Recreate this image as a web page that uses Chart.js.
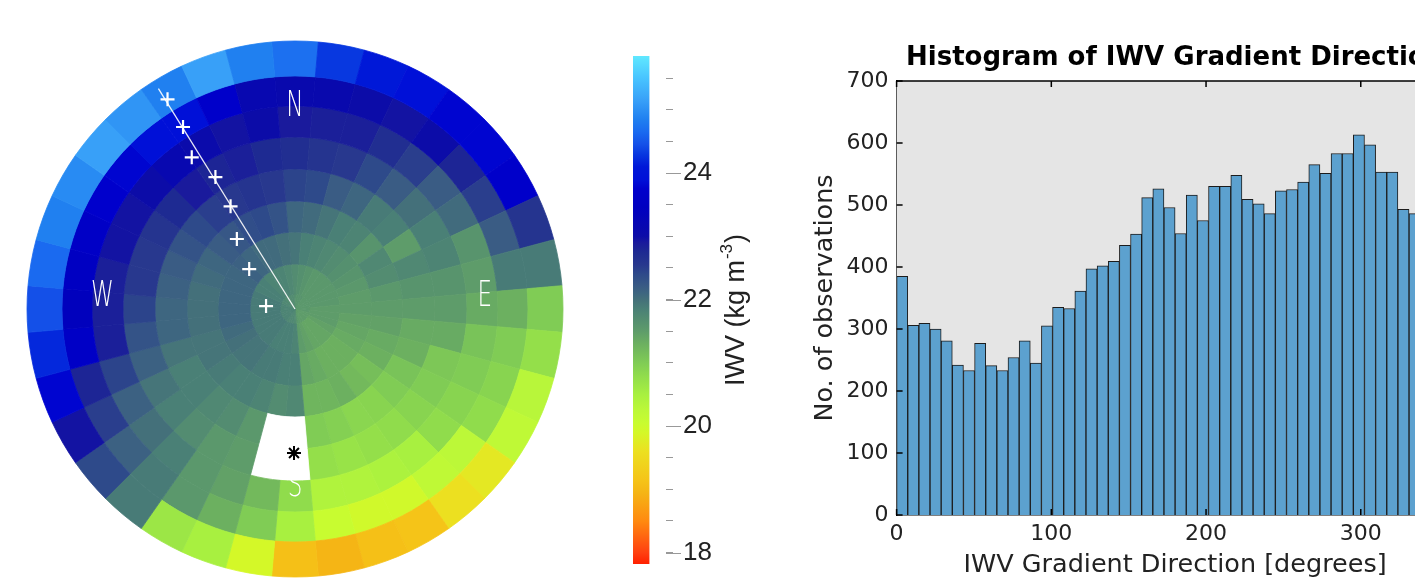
<!DOCTYPE html>
<html><head><meta charset="utf-8">
<script src="https://cdn.jsdelivr.net/npm/chart.js@4.4.1/dist/chart.umd.min.js"></script>
<style>
html,body{margin:0;padding:0;background:#fff;overflow:hidden;width:1415px;height:586px;position:relative;}
.box{position:absolute;}
#polarBox,#overBox{left:15px;top:29px;width:560px;height:560px;}
#cbarBox{left:600px;top:40px;width:180px;height:546px;}
#histBox{left:800px;top:0px;width:700px;height:586px;}
</style></head>
<body>
<div class="box" id="polarBox"><canvas id="polar"></canvas></div>
<div class="box" id="overBox"><canvas id="over"></canvas></div>
<div class="box" id="cbarBox"><canvas id="cbar"></canvas></div>
<div class="box" id="histBox"><canvas id="hist"></canvas></div>
<script>
// ---------- DATA ----------
// sky map: sector centre azimuths (deg, clockwise from N)
const sectorAz = [0,10,20,30,40,50,60,70,80,90,100,110,120,130,140,150,160,170,180,190,200,210,220,230,240,250,260,270,280,290,300,310,320,330,340,350];
// IWV per ring, outermost ring first; null = blocked (white)
const ring7 = [24.7,24.3,24.1,23.9,23.8,23.8,23.7,22.6,21.9,21.0,20.75,20.3,20.2,19.7,19.6,19.15,19.1,18.95,19.1,19.9,20.5,20.65,21.9,22.4,22.95,23.8,24.2,24.45,24.65,24.85,24.95,25.15,25.05,24.85,25.15,24.85];
const ring6 = [23.1,23.1,23.0,22.95,23.0,22.8,22.5,22.2,21.9,21.3,21.0,20.9,20.8,20.25,20.2,19.95,19.95,20.05,20.5,21.0,21.3,21.55,21.9,22.15,22.5,22.8,23.6,23.4,23.5,23.6,23.75,23.8,23.9,23.9,23.7,23.15];
const ring5 = [22.9,22.85,22.85,22.7,22.5,22.2,22.05,21.6,21.5,21.35,21.1,21.0,20.9,20.8,20.5,20.45,20.4,20.4,20.8,21.2,21.45,21.55,21.85,22.0,22.15,22.45,22.85,22.85,22.85,22.95,22.95,23.0,23.15,23.05,22.95,23.0];
const ring4 = [22.7,22.6,22.55,22.4,22.2,22.0,21.85,21.8,21.6,21.5,21.35,21.05,21.0,20.9,20.8,20.75,20.7,20.75,null,null,21.5,21.55,21.7,21.85,21.95,22.15,22.3,22.45,22.55,22.55,22.6,22.75,22.9,22.8,22.85,22.75];
const ring3 = [22.45,22.4,22.2,22.1,21.9,21.85,21.5,21.75,21.6,21.5,21.35,21.3,21.1,21.0,20.9,20.88,20.95,21.0,null,null,21.55,21.7,21.75,21.85,21.85,21.95,22.1,22.1,22.15,22.2,22.3,22.4,22.5,22.55,22.6,22.55];
const ring2 = [22.1,22.05,21.95,21.85,21.8,21.6,21.75,21.7,21.55,21.5,21.45,21.35,21.3,21.15,21.2,21.3,21.25,21.25,21.75,21.7,21.8,21.85,21.85,21.9,21.95,21.95,22.0,22.0,22.0,22.05,22.1,22.2,22.25,22.35,22.4,22.3];
const ring1 = [21.95,21.85,21.8,21.75,21.7,21.65,21.6,21.55,21.5,21.5,21.45,21.4,21.35,21.3,21.3,21.3,21.35,21.4,21.85,21.85,21.9,21.9,21.95,21.95,22.0,22.05,22.1,22.1,22.1,22.1,22.1,22.15,22.1,22.05,22.05,22.0];
const ring0 = [21.7,21.65,21.6,21.55,21.55,21.55,21.55,21.55,21.55,21.5,21.5,21.5,21.45,21.4,21.4,21.4,21.45,21.5,21.8,21.85,21.85,21.85,21.9,21.9,21.9,21.9,21.9,21.9,21.9,21.9,21.85,21.85,21.8,21.8,21.8,21.75];
const ringC = [21.65,21.6,21.6,21.6,21.55,21.55,21.55,21.55,21.55,21.55,21.55,21.5,21.5,21.5,21.5,21.5,21.5,21.55,21.7,21.75,21.75,21.75,21.8,21.8,21.8,21.8,21.8,21.8,21.8,21.8,21.75,21.75,21.7,21.7,21.7,21.7];
// scan markers (azimuth deg, zenith deg)
const markerAz  = [328.7,328.4,325.75,328.9,327.9,320.3,311.1,275.7];
const markerZen = [85.2,74.2,63.7,53.5,42.1,31.6,21.1,10.1];
const scanLineAz = 328.2;
const scanLineZen = [0, 90];
const starAz = [180.4], starZen = [50.0];
const compassText = ['N','E','S','W'];
const compassAz   = [0, 86.5, 180, 273.45];
const compassZen  = [70.2, 66, 61.8, 67];
// colour bar / colour map
const cbMin = 17.82, cbMax = 25.85;
const cbMajorTicks = [18,20,22,24];
const cmapVals   = [17.82,18.0,18.5,18.95,19.15,19.6,19.9,20.05,20.25,20.5,20.8,21.0,21.3,21.5,21.85,22.0,22.1,22.2,22.4,22.55,22.75,22.9,23.0,23.45,23.75,23.9,24.1,24.3,24.45,24.65,24.85,25.15,25.5,25.85];
const cmapColors = ['#ff2000','#ff4010','#ff8a10','#f5b515','#f5c418','#ece020','#d4f828','#c8fc30','#bcf838','#a8f040','#90dc4c','#80cc55','#6cb060','#5e9c6a','#4a8076','#44707a','#3e6680','#3a5c84','#2e4a8a','#28388e','#1e2a92','#1a1a9c','#0c0ca8','#0000c0','#0000cc','#0010d8','#0018d8','#0838e0','#1450e8','#1a6af0','#2080f0','#38a0f8','#48c4ff','#60e8ff'];
// histogram
const binWidth = 7.2;
const histCounts = [385,306,309,300,281,242,233,277,241,233,254,281,245,305,335,333,361,397,402,409,435,453,512,526,496,454,516,475,530,530,548,509,502,486,523,525,537,565,551,583,583,613,597,553,553,493,486];
const histXTicks = [0,100,200,300];
const histTitle = 'Histogram of IWV Gradient Direction';

// ---------- helpers ----------
function hex2rgb(h){return [parseInt(h.slice(1,3),16),parseInt(h.slice(3,5),16),parseInt(h.slice(5,7),16)];}
const cmapRGB = cmapColors.map(hex2rgb);
function cmap(v){
  if(v===null||v===undefined) return '#ffffff';
  if(v<=cmapVals[0]) return cmapColors[0];
  const n=cmapVals.length;
  if(v>=cmapVals[n-1]) return cmapColors[n-1];
  let i=0; while(v>cmapVals[i+1]) i++;
  const t=(v-cmapVals[i])/(cmapVals[i+1]-cmapVals[i]);
  const a=cmapRGB[i], b=cmapRGB[i+1];
  return 'rgb('+a.map((c,k)=>Math.round(c+(b[k]-c)*t)).join(',')+')';
}
const toRad = d=>d*Math.PI/180;

// ---------- polar sky map (doughnut rings) ----------
const rings = [ring7,ring6,ring5,ring4,ring3,ring2,ring1,ring0,ringC];
const ringWeights = [35,30,31,32,32,31,32,30,15];
new Chart(document.getElementById('polar'),{
  type:'doughnut',
  data:{labels:sectorAz.map(String),datasets:rings.map((vals,i)=>({
    data:vals.map(()=>1),
    backgroundColor:vals.map(cmap),
    borderColor:vals.map(cmap),
    borderWidth:0.8,
    weight:ringWeights[i]
  }))},
  options:{responsive:true,maintainAspectRatio:false,animation:false,events:[],
    radius:268,cutout:0,rotation:-5,layout:{padding:0},
    plugins:{legend:{display:false},tooltip:{enabled:false}}}
});

// ---------- overlay (scan line, markers, labels) ----------
const Rext = 90*280/268;
const pol = (az,zen)=>({x:zen*Math.sin(toRad(az)), y:zen*Math.cos(toRad(az))});
const compassPlugin = {id:'compass',afterDatasetsDraw(chart){
  const {ctx,scales:{x,y}}=chart;
  ctx.save();
  ctx.fillStyle='#ffffff';
  ctx.font='200 35px "DejaVu Sans"';
  ctx.textAlign='center';ctx.textBaseline='middle';
  compassText.forEach((t,i)=>{
    const p=pol(compassAz[i],compassZen[i]);
    ctx.save();
    ctx.translate(x.getPixelForValue(p.x),y.getPixelForValue(p.y));
    ctx.scale(0.66,1);
    ctx.fillText(t,0,0);
    ctx.restore();
  });
  ctx.restore();
}};
new Chart(document.getElementById('over'),{
  type:'scatter',
  data:{datasets:[
    {type:'line',data:scanLineZen.map(z=>pol(scanLineAz,z)),borderColor:'rgba(255,255,255,0.9)',borderWidth:1.3,pointRadius:0,clip:false},
    {data:markerAz.map((a,i)=>pol(a,markerZen[i])),pointStyle:'cross',pointRadius:7,borderColor:'#ffffff',borderWidth:2.2,clip:false},
    {data:starAz.map((a,i)=>pol(a,starZen[i])),pointStyle:'star',pointRadius:7,borderColor:'#000000',borderWidth:2,clip:false}
  ]},
  options:{responsive:true,maintainAspectRatio:false,animation:false,events:[],layout:{padding:0},
    scales:{x:{type:'linear',display:false,min:-Rext,max:Rext},y:{type:'linear',display:false,min:-Rext,max:Rext}},
    plugins:{legend:{display:false},tooltip:{enabled:false}}},
  plugins:[compassPlugin]
});

// ---------- colour bar ----------
const cbarPlugin = {id:'cbarExtras',afterDraw(chart){
  const {ctx,chartArea,scales:{y}}=chart;
  ctx.save();
  ctx.strokeStyle='#999';ctx.lineWidth=1;
  cbMajorTicks.forEach(v=>{
    const py=Math.round(y.getPixelForValue(v))+0.5;
    ctx.beginPath();ctx.moveTo(chartArea.right,py);ctx.lineTo(chartArea.right+15,py);ctx.stroke();
  });
  // label, reading bottom-to-top
  ctx.translate(137,270);ctx.rotate(-Math.PI/2);
  ctx.fillStyle='#222';ctx.textBaseline='middle';
  const f1='27px "Liberation Sans"', f2='17px "Liberation Sans"';
  const a='IWV (kg m', s='-3', b=')';
  ctx.font=f1; const wa=ctx.measureText(a).width, wb=ctx.measureText(b).width;
  ctx.font=f2; const ws=ctx.measureText(s).width;
  const tot=wa+ws+wb+2; let x0=-tot/2;
  ctx.textAlign='left';
  ctx.font=f1; ctx.fillText(a,x0,0);
  ctx.font=f2; ctx.fillText(s,x0+wa+1,-10);
  ctx.font=f1; ctx.fillText(b,x0+wa+ws+2,0);
  ctx.restore();
}};
new Chart(document.getElementById('cbar'),{
  type:'bar',
  data:{labels:['IWV'],datasets:[{
    data:[[cbMin,cbMax]],
    backgroundColor:(c)=>{
      const ch=c.chart; if(!ch.chartArea) return '#888';
      const ys=ch.scales.y;
      const g=ch.ctx.createLinearGradient(0,ys.getPixelForValue(cbMin),0,ys.getPixelForValue(cbMax));
      cmapVals.forEach((v,i)=>g.addColorStop((v-cbMin)/(cbMax-cbMin),cmapColors[i]));
      return g;
    },
    borderColor:'#111',borderWidth:{left:1.5,right:0,top:0,bottom:0},borderSkipped:false,
    barPercentage:1,categoryPercentage:1
  }]},
  options:{responsive:true,maintainAspectRatio:false,animation:false,events:[],
    layout:{padding:{left:33,top:16,bottom:22,right:0}},
    plugins:{legend:{display:false},tooltip:{enabled:false}},
    scales:{
      x:{display:false,offset:false},
      y:{position:'right',min:cbMin,max:cbMax,
        afterFit:s=>{s.width=114;s.paddingTop=0;s.paddingBottom=0;},
        afterBuildTicks:s=>{const t=[];for(let v=18;v<=25.5+1e-9;v+=0.5)t.push({value:v});s.ticks=t;},
        ticks:{callback:v=>cbMajorTicks.includes(v)?String(v):'',font:{family:'Liberation Sans',size:26},color:'#222',padding:10,autoSkip:false},
        grid:{drawOnChartArea:false,drawTicks:true,tickLength:7,color:'#999'},
        border:{display:false}}
    }},
  plugins:[cbarPlugin]
});

// ---------- histogram ----------
const histPlugin = {id:'histFrame',
  beforeDatasetsDraw(chart){const {ctx,chartArea:a}=chart;ctx.save();ctx.fillStyle='#e5e5e5';ctx.fillRect(a.left,a.top,a.right-a.left,a.bottom-a.top);ctx.restore();},
  afterDatasetsDraw(chart){
    const {ctx,chartArea:a,scales:{x,y}}=chart;
    ctx.save();ctx.strokeStyle='#000';ctx.lineWidth=1.5;
    ctx.beginPath();ctx.moveTo(a.left,a.top);ctx.lineTo(a.right,a.top);ctx.lineTo(a.right,a.bottom);ctx.stroke();
    y.ticks.forEach(t=>{const py=y.getPixelForValue(t.value);ctx.beginPath();ctx.moveTo(a.left,py);ctx.lineTo(a.left+6,py);ctx.stroke();});
    x.ticks.forEach(t=>{const px=x.getPixelForValue(t.value);ctx.beginPath();ctx.moveTo(px,a.top);ctx.lineTo(px,a.top+6);ctx.moveTo(px,a.bottom);ctx.lineTo(px,a.bottom-6);ctx.stroke();});
    ctx.restore();
  },
  afterDraw(chart){
    const {ctx,chartArea:a}=chart;
    ctx.save();ctx.fillStyle='#000';ctx.font='bold 26px "DejaVu Sans"';
    ctx.textAlign='center';ctx.textBaseline='middle';
    ctx.fillText(histTitle,(a.left+a.right)/2,a.top-23);
    ctx.restore();
  }};
new Chart(document.getElementById('hist'),{
  type:'bar',
  data:{datasets:[{
    data:histCounts.map((c,i)=>({x:i*binWidth+binWidth/2,y:c})),
    backgroundColor:'#5ca1cf',borderColor:'#1c1c1c',borderWidth:1,
    barPercentage:1,categoryPercentage:1
  }]},
  options:{responsive:true,maintainAspectRatio:false,animation:false,events:[],
    layout:{padding:{right:46.4,top:81}},
    plugins:{legend:{display:false},tooltip:{enabled:false},title:{display:false}},
    scales:{
      x:{type:'linear',min:0,max:360,offset:false,afterFit:s=>{s.height=71;},
        afterBuildTicks:s=>{s.ticks=histXTicks.map(v=>({value:v}));},
        ticks:{font:{family:'DejaVu Sans',size:22},color:'#222',padding:6,maxRotation:0,autoSkip:false},
        grid:{display:false,drawTicks:false},border:{color:'#000',width:1.5},
        title:{display:true,text:'IWV Gradient Direction [degrees]',color:'#222',font:{family:'DejaVu Sans',size:25.5},padding:{top:0,bottom:5}}},
      y:{min:0,max:700,afterFit:s=>{s.width=96.6;},
        ticks:{stepSize:100,font:{family:'DejaVu Sans',size:22},color:'#222',padding:8},
        grid:{display:false,drawTicks:false},border:{color:'#000',width:1.5},
        title:{display:true,text:'No. of observations',color:'#222',font:{family:'DejaVu Sans',size:25.5},padding:{top:10,bottom:0}}}
    }},
  plugins:[histPlugin]
});
</script>
</body></html>
